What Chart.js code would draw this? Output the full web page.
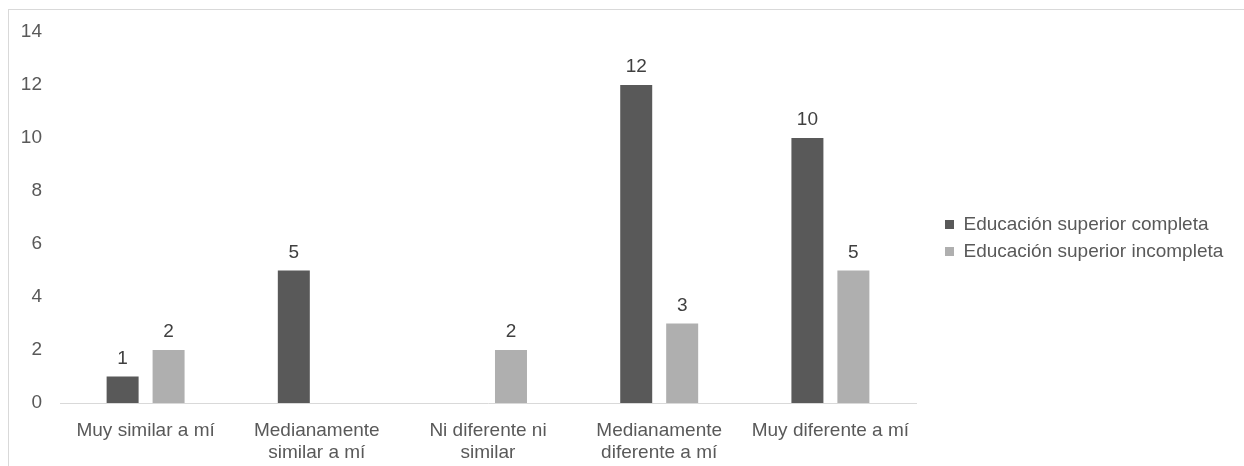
<!DOCTYPE html>
<html>
<head>
<meta charset="utf-8">
<script src="https://cdn.jsdelivr.net/npm/chart.js@4/dist/chart.umd.min.js"></script>
<style>
  html, body { margin: 0; padding: 0; background: #fff; }
  #frame { position: absolute; left: 8px; top: 9px; width: 1300px; height: 500px;
           border-top: 1px solid #d9d9d9; border-left: 1px solid #d9d9d9; }
  #wrap { position: absolute; left: 0; top: 0; width: 1244px; height: 466px; }
</style>
</head>
<body>
<div id="frame"></div>
<div id="wrap"><canvas id="chart"></canvas></div>
<script>
const categories = [
  "Muy similar a mí",
  ["Medianamente", "similar a mí"],
  ["Ni diferente ni", "similar"],
  ["Medianamente", "diferente a mí"],
  "Muy diferente a mí"
];
const seriesNames = ["Educación superior completa", "Educación superior incompleta"];
const completa = [1, 5, 0, 12, 10];
const incompleta = [2, 0, 2, 3, 5];
const yTicks = [0, 2, 4, 6, 8, 10, 12, 14];

const FONT = "'Liberation Sans', Arial, sans-serif";
const TEXT = "#595959";

// value labels above bars (zeros are not shown)
const barValues = {
  id: 'barValues',
  afterDatasetsDraw(chart) {
    const ctx = chart.ctx;
    ctx.save();
    ctx.font = "19px " + FONT;
    ctx.fillStyle = "#404040";
    ctx.textAlign = "center";
    ctx.textBaseline = "middle";
    chart.data.datasets.forEach((ds, i) => {
      chart.getDatasetMeta(i).data.forEach((bar, j) => {
        if (!ds.data[j]) return;
        ctx.fillText(ds.data[j], bar.x, bar.y - 18);
      });
    });
    ctx.restore();
  }
};

// legend sits a bit away from the plot, like the original
const legendPlace = {
  id: 'legendPlace',
  afterInit(chart) {
    const lg = chart.legend;
    const fit = lg.fit;
    lg.fit = function () { fit.call(this); this.width = 328; };
  },
  afterLayout(chart) {
    const lg = chart.legend;
    lg.left += 21; lg.right += 21;
    lg.top -= 11; lg.bottom -= 11;
  }
};

new Chart(document.getElementById("chart"), {
  type: 'bar',
  data: {
    labels: categories,
    datasets: [
      { label: seriesNames[0], data: completa, backgroundColor: "#595959" },
      { label: seriesNames[1], data: incompleta, backgroundColor: "#afafaf" }
    ]
  },
  options: {
    responsive: true,
    maintainAspectRatio: false,
    animation: false,
    categoryPercentage: 0.537,
    barPercentage: 0.696,
    layout: { padding: { top: 32, left: 0, right: 0, bottom: 0 } },
    scales: {
      x: {
        grid: { display: false, drawTicks: false },
        border: { display: true, color: "#d9d9d9", width: 1 },
        ticks: { color: TEXT, font: { family: FONT, size: 19, lineHeight: 1.16 }, padding: 17, maxRotation: 0, autoSkip: false },
        afterFit(scale) { scale.height = 63; }
      },
      y: {
        min: 0, max: 14,
        afterBuildTicks(scale) { scale.ticks = yTicks.map(v => ({ value: v })); },
        grid: { display: false, drawTicks: false },
        border: { display: false },
        ticks: { color: TEXT, font: { family: FONT, size: 19 }, padding: 18 },
        afterFit(scale) { scale.width = 60; }
      }
    },
    plugins: {
      legend: {
        position: 'right',
        labels: { boxWidth: 9, boxHeight: 9, padding: 8, color: TEXT, font: { family: FONT, size: 19 } }
      },
      tooltip: { enabled: false }
    }
  },
  plugins: [barValues, legendPlace]
});
</script>
</body>
</html>
